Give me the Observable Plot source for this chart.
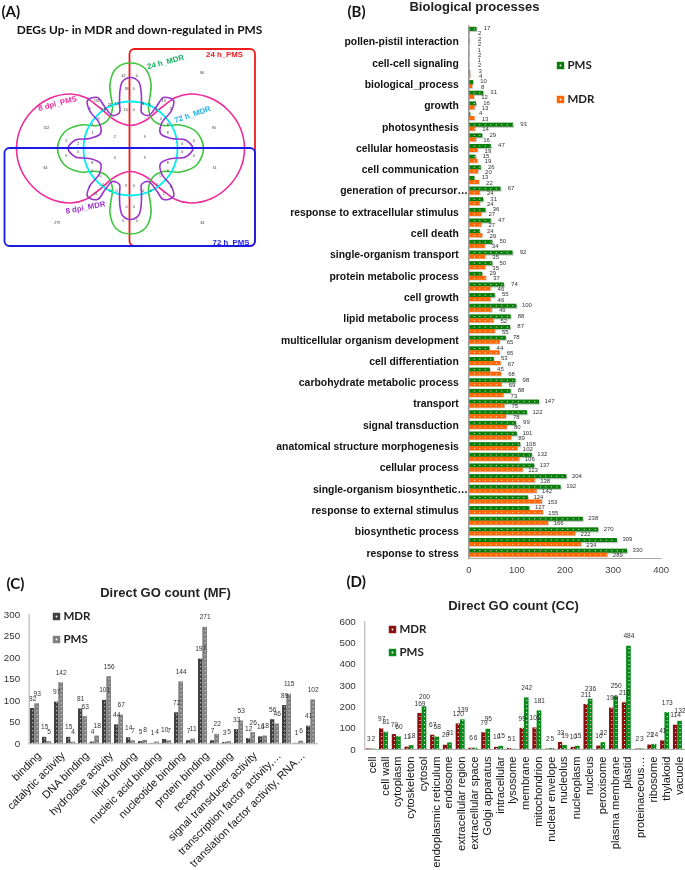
<!DOCTYPE html>
<html><head><meta charset="utf-8">
<script src="https://cdn.jsdelivr.net/npm/d3@7"></script>
<script src="https://cdn.jsdelivr.net/npm/@observablehq/plot@0.6"></script>
<style>
html,body{margin:0;padding:0;background:#fff;overflow:hidden}
#page{position:relative;width:685px;height:870px;overflow:hidden;filter:blur(.35px)}
#page svg{position:absolute;background:transparent}
</style></head><body><div id="page"></div>
<script>
// ---------- Panel B ----------
const bLabels = {1:"pollen-pistil interaction",3:"cell-cell signaling",5:"biological_process",7:"growth",9:"photosynthesis",11:"cellular homeostasis",13:"cell communication",15:"generation of precursor…",17:"response to extracellular stimulus",19:"cell death",21:"single-organism transport",23:"protein metabolic process",25:"cell growth",27:"lipid metabolic process",29:"multicellular organism development",31:"cell differentiation",33:"carbohydrate metabolic process",35:"transport",37:"signal transduction",39:"anatomical structure morphogenesis",41:"cellular process",43:"single-organism biosynthetic…",45:"response to external stimulus",47:"biosynthetic process",49:"response to stress"};
const bPMS = [17,2,1,1,3,10,31,16,4,93,29,47,15,26,13,67,31,36,47,24,50,92,50,29,74,55,100,88,87,78,44,53,45,98,88,147,122,99,101,108,132,137,204,192,124,127,238,270,309,330];
const bMDR = [2,2,2,2,4,8,12,13,13,14,16,19,19,20,22,24,24,27,27,29,34,35,35,37,46,46,49,52,55,65,65,67,68,69,73,75,78,80,89,102,106,113,138,142,153,155,166,222,234,289];
// ---------- Panel C ----------
const cLabels = {0:"binding",2:"catalytic activity",4:"DNA binding",6:"hydrolase activity",8:"lipid binding",10:"nucleic acid binding",12:"nucleotide binding",14:"protein binding",16:"receptor binding",18:"signal transducer activity",20:"transcription factor activity,…",22:"translation factor activity, RNA…"};
const cMDR = [82,15,97,15,81,4,101,44,14,5,1,10,72,7,197,7,3,33,12,16,56,89,1,41];
const cPMS = [93,5,142,4,63,18,156,67,7,8,4,7,144,11,271,22,5,53,26,18,46,115,6,102];
// ---------- Panel D ----------
const dNames = ["cell","cell wall","cytoplasm","cytoskeleton","cytosol","endoplasmic reticulum","endosome","extracellular region","extracellular space","Golgi apparatus","intracellular","lysosome","membrane","mitochondrion","nuclear envelope","nucleolus","nucleoplasm","nucleus","peroxisome","plasma membrane","plastid","proteinaceous…","ribosome","thylakoid","vacuole"];
const dMDR = [3,97,70,11,169,67,20,120,6,79,10,5,99,101,2,33,10,211,16,194,219,2,21,41,114];
const dPMS = [2,81,60,18,200,58,31,139,6,95,15,1,242,181,5,19,15,236,32,250,484,3,24,173,132];
// ---------- Panel A (Venn), quadrant outlines as offsets from the diagram centre ----------
const vennCentre = [130,148];
const pinkQuadrant = [[0,23],[15,28],[31,41],[45,51],[60,54.5],[81,50],[98,38],[110,20],[114,0]];
const greenQuadrant = [[0,85.5],[14.5,80],[20.5,65],[19.5,52],[18,40],[23,28],[33,23],[50,23.5],[66,16.5],[73,0]];
const purpleQuadrant = [[0,71],[8,67],[10.5,58],[11,45],[11,36],[18,33],[26,42],[33,51],[43,48],[41,38],[31,25],[30,15],[41,10],[55,8.5],[62.5,0]];
const vennNumbers = [[123,75,"42"],[136.3,75,"0"],[126,88,"38"],[133.3,88,"0"],[125.3,109.3,"10"],[133.3,109.3,"0"],[201.7,72.3,"80"],[96,100.3,"726"],[89.3,108.7,"9"],[103.3,109.3,"18"],[109.3,104,"21"],[116.3,103.7,"14"],[142.7,103.7,"8"],[149.3,104,"8"],[163.3,100.3,"13"],[156,109.3,"4"],[170.3,108.7,"2"],[160.7,118.3,"0"],[167.3,124,"8"],[167.3,132.3,"8"],[92,124,"1"],[98,118,"9"],[92,132.5,"1"],[45.7,127,"152"],[213.3,127,"90"],[114.3,136.7,"2"],[144.3,136.7,"9"],[65.7,140,"2"],[77.7,143.3,"2"],[65.7,155,"9"],[77.7,151,"0"],[181.7,143.3,"0"],[193.3,140,"0"],[181.7,151,"0"],[193.3,155,"0"],[114.3,157.3,"0"],[144.3,157.3,"9"],[45,167.7,"64"],[214,167.7,"31"],[91.7,162.3,"8"],[167.3,162.3,"8"],[91.7,170,"0"],[167.3,170,"0"],[100,175.7,"0"],[160,175.7,"0"],[88.7,186,"1"],[102.7,184.3,"0"],[95.3,193.7,"11"],[110,190.3,"0"],[116,190.7,"0"],[125.7,185.3,"9"],[133.3,185.3,"0"],[142.7,190.7,"0"],[150,190.7,"0"],[156.7,184.3,"0"],[170.7,186,"8"],[163.3,193.7,"2"],[126,206.7,"0"],[133.3,206.7,"0"],[122.7,220,"0"],[136.3,220,"0"],[56.7,222.3,"279"],[201.7,222.3,"34"]];
const vennNames = [["8 dpi_PMS",57,103,-15,"#ee2a9b"],["24 h_MDR",165,61.5,-15,"#18b060"],["72 h_MDR",192,114,-19,"#1fb0e8"],["8 dpi_MDR",85,207,-11,"#9933cc"],["24 h_PMS",224,54,0,"#f01a1a"],["72 h_PMS",230.5,242,0,"#1a1ae6"]];
const titles = [["Biological processes",474,6],["Direct GO count (MF)",165,592],["Direct GO count (CC)",513,605]];
const panelTags = [["(A)",1,12],["(B)",347,12],["(C)",6,584],["(D)",346,582]];
const legends = [["PMS",560,65,"#0a7d0a"],["MDR",560,99,"#ff6600"],["MDR",56,616,"#404040"],["PMS",56,639,"#808080"],["MDR",392,629,"#8a1010"],["PMS",392,652,"#0a8a1a"]];

const sans = "Liberation Sans, Arial, sans-serif";
const page = document.getElementById("page");
function place(svg,left,top){svg.style.left=left+"px";svg.style.top=top+"px";page.appendChild(svg);}

// Panel B
const bRows = d3.range(50).map(i=>({i,pms:bPMS[i],mdr:bMDR[i]}));
const bIdx = Object.keys(bLabels).map(Number);
const bLong = bIdx.filter(i=>bLabels[i].endsWith("…"));
const bNorm = bIdx.filter(i=>!bLabels[i].endsWith("…"));
place(Plot.plot({
  width:685,height:590,marginLeft:468.3,marginRight:24.3,marginTop:25.5,marginBottom:32,
  style:{fontFamily:sans,background:"transparent",overflow:"visible"},
  x:{domain:[0,400]},
  y:{type:"band",domain:d3.range(50),padding:0,round:false},
  marks:[
    Plot.barX(bRows,{x:"pms",y:"i",insetTop:1.3,insetBottom:5.3,dx:1,dy:1.2,fill:"#888",fillOpacity:.45}),
    Plot.barX(bRows,{x:"pms",y:"i",insetTop:1.3,insetBottom:5.3,fill:"#0a7d0a"}),
    Plot.barX(bRows,{x:"mdr",y:"i",insetTop:5.3,insetBottom:1.3,dx:1,dy:.8,fill:"#888",fillOpacity:.35}),
    Plot.barX(bRows,{x:"mdr",y:"i",insetTop:5.3,insetBottom:1.3,fill:"#ff6600"}),
    Plot.ruleY(bRows,{x1:0,x2:"pms",y:"i",dy:-2.4,stroke:"#fff",strokeWidth:.9,strokeDasharray:"1 4.5"}),
    Plot.ruleY(bRows,{x1:0,x2:"mdr",y:"i",dy:1.8,stroke:"#fff",strokeWidth:.9,strokeDasharray:"1 4.5"}),
    Plot.text(bRows,{x:"pms",y:"i",text:"pms",dx:10,dy:-3,fontSize:6,fill:"#333"}),
    Plot.text(bRows,{x:"mdr",y:"i",text:"mdr",dx:10,dy:2.2,fontSize:6,fill:"#333"}),
    Plot.axisY({ticks:bNorm,tickFormat:i=>bLabels[i],tickSize:0,tickPadding:10,fontSize:10.4,fontWeight:"bold",fill:"#111",label:null,marginLeft:468}),
    Plot.axisY({ticks:bLong,tickFormat:i=>bLabels[i],tickSize:0,tickPadding:1,fontSize:10.4,fontWeight:"bold",fill:"#111",label:null,marginLeft:468}),
    Plot.axisX({ticks:[0,100,200,300,400],tickSize:0,tickPadding:8,fontSize:9.5,fill:"#444",label:null}),
    Plot.frame({anchor:"left",stroke:"#999",strokeWidth:1.5}),
    Plot.frame({anchor:"bottom",stroke:"#aaa",strokeWidth:1})
  ]
}),0,0);

// Grouped columns for panels C and D
function columns(o){
  const rows=o.mdr.map((m,i)=>({i,m,p:o.pms[i]}));
  return Plot.plot({
    width:o.width,height:300,marginLeft:o.ml,marginRight:o.mr,marginTop:o.mt,marginBottom:o.mb,
    style:{fontFamily:sans,background:"transparent",overflow:"visible"},
    x:{type:"band",domain:d3.range(rows.length),padding:0,round:false},
    y:{domain:[0,o.ymax]},
    marks:[
      Plot.barY(rows,{x:"i",y:"m",insetLeft:o.a[0],insetRight:o.a[1],fill:o.c[0]}),
      Plot.barY(rows,{x:"i",y:"p",insetLeft:o.b[0],insetRight:o.b[1],fill:o.c[1]}),
      Plot.ruleX(rows,{x:"i",y1:0,y2:"m",dx:o.dm,stroke:"#fff",strokeWidth:1,strokeDasharray:"1 3"}),
      Plot.ruleX(rows,{x:"i",y1:0,y2:"p",dx:o.dp,stroke:"#fff",strokeWidth:1,strokeDasharray:"1 3"}),
      Plot.text(rows,{x:"i",y:"m",text:"m",dx:o.dm,dy:-10,fontSize:6.6,fill:"#333"}),
      Plot.text(rows,{x:"i",y:"p",text:"p",dx:o.dp,dy:-10,fontSize:6.6,fill:"#333"}),
      Plot.axisX({ticks:o.ticks,tickFormat:o.fmt,tickSize:0,tickPadding:o.tp,dx:o.tx,tickRotate:o.rot,fontSize:o.fs,fill:"#111",stroke:"#111",strokeWidth:.15,label:null}),
      Plot.axisY({ticks:d3.range(0,o.ymax+1,o.step),tickSize:0,tickPadding:9,fontSize:9.8,fill:"#333",label:null}),
      Plot.frame({anchor:"left",stroke:"#aaa",strokeWidth:1}),
      Plot.frame({anchor:"bottom",stroke:"#aaa",strokeWidth:1})
    ]
  });
}
place(columns({mdr:cMDR,pms:cPMS,width:340,ml:28.7,mr:23.3,mt:44.3,mb:126.7,ymax:300,step:50,
  a:[1.3,6.4],b:[5.6,1.7],c:["#404040","#808080"],dm:-2.55,dp:1.95,rot:-45,fs:11,tp:10,tx:4,
  ticks:Object.keys(cLabels).map(Number),fmt:i=>cLabels[i]}),0,570);
place(columns({mdr:dMDR,pms:dPMS,width:365,ml:44.3,mr:1.2,mt:51,mb:121,ymax:600,step:100,
  a:[1.9,6.6],b:[6.2,1.9],c:["#8a1010","#0a8a1a"],dm:-2.3,dp:2.15,rot:-90,fs:11.2,tp:7,tx:1,
  ticks:d3.range(25),fmt:i=>dNames[i]}),320,570);

// Overlay: Venn diagram, titles, panel tags, legends
function ring(q){
  const [cx,cy]=vennCentre, pts=[];
  q.forEach(([a,b])=>pts.push([cx+a,cy-b]));
  q.slice(0,-1).reverse().forEach(([a,b])=>pts.push([cx+a,cy+b]));
  q.slice(1).forEach(([a,b])=>pts.push([cx-a,cy+b]));
  q.slice(1,-1).reverse().forEach(([a,b])=>pts.push([cx-a,cy-b]));
  return pts;
}
const outline=(q,c)=>Plot.line(ring(q),{x:d=>d[0],y:d=>d[1],curve:"catmull-rom-closed",stroke:c,strokeWidth:1.6});
const f0=d=>d[0],f1=d=>d[1],f2=d=>d[2],f3=d=>d[3],f4=d=>d[4];
place(Plot.plot({
  width:685,height:870,margin:0,
  style:{fontFamily:sans,background:"transparent",overflow:"visible"},
  x:{axis:null,domain:[0,685],range:[0,685]},
  y:{axis:null,domain:[0,870],range:[0,870]},
  marks:[
    Plot.rect([[129.5,255,49,246]],{x1:f0,x2:f1,y1:f2,y2:f3,rx:5,stroke:"#f01a1a",strokeWidth:1.8,fill:"none"}),
    outline(pinkQuadrant,"#ee2a9b"),
    outline(greenQuadrant,"#3cc43c"),
    Plot.dot([vennCentre],{x:f0,y:f1,r:47,stroke:"#00eef0",strokeWidth:1.8,fill:"none"}),
    outline(purpleQuadrant,"#9933cc"),
    Plot.rect([[4.5,255,148,246]],{x1:f0,x2:f1,y1:f2,y2:f3,rx:5,stroke:"#1a1ae6",strokeWidth:1.8,fill:"none"}),
    Plot.text(vennNumbers,{x:f0,y:f1,text:f2,fontSize:3.6,fill:"#333"}),
    Plot.text(vennNames,{x:f1,y:f2,text:f0,rotate:f3,fill:f4,fontSize:7.8,fontWeight:"bold"}),
    Plot.text(["DEGs Up- in MDR and down-regulated in PMS"],{x:()=>139,y:()=>30,fontFamily:"Lato",fontWeight:"bold",fontSize:11.9,fill:"#111"}),
    Plot.text(titles,{x:f1,y:f2,text:f0,fontSize:13,fontWeight:"bold",fill:"#222"}),
    Plot.text(panelTags,{x:f1,y:f2,text:f0,textAnchor:"start",fontFamily:"Lato",fontWeight:"bold",fontSize:15,fill:"#111"}),
    Plot.dot(legends,{x:f1,y:f2,fill:f3,symbol:"square",r:4.2,stroke:"none"}),
    Plot.dot(legends,{x:f1,y:f2,fill:"#fff",r:.9,stroke:"none"}),
    Plot.text(legends,{x:f1,y:f2,text:f0,dx:7,textAnchor:"start",fontFamily:"Lato",fontWeight:"bold",fontSize:11.5,fill:"#222"})
  ]
}),0,0);
</script></body></html>
